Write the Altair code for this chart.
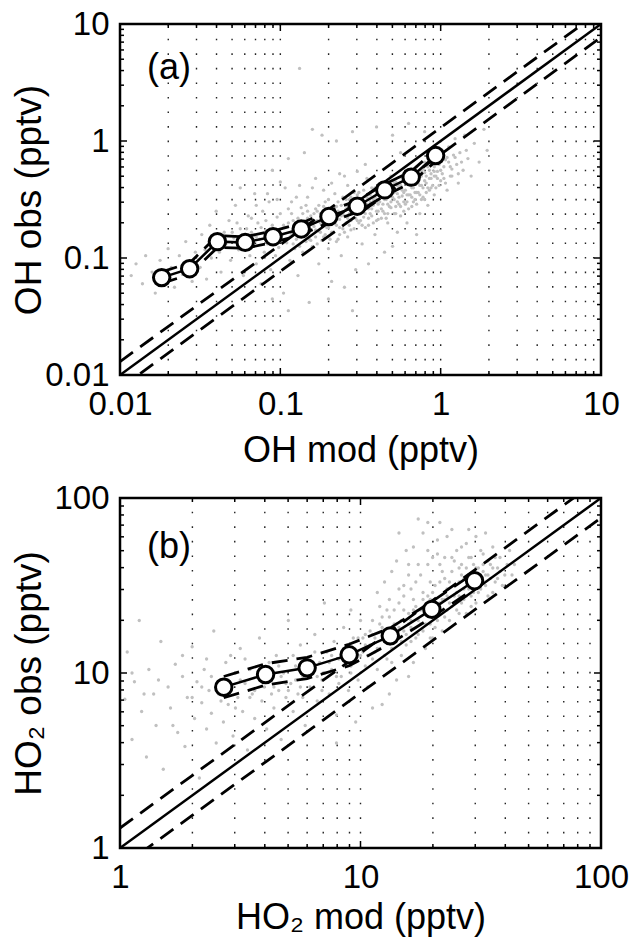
import altair as alt
import pandas as pd

FONT = "Liberation Sans, Arial, Helvetica, sans-serif"

# ---------------- Panel (a): OH ----------------
a_major = [0.01, 0.1, 1, 10]
a_minor = [0.02, 0.03, 0.04, 0.05, 0.06, 0.07, 0.08, 0.09,
           0.2, 0.3, 0.4, 0.5, 0.6, 0.7, 0.8, 0.9,
           2, 3, 4, 5, 6, 7, 8, 9]
a_grid = [0.02, 0.03, 0.04, 0.05, 0.06, 0.07, 0.08, 0.09, 0.1,
          0.2, 0.3, 0.4, 0.5, 0.6, 0.7, 0.8, 0.9, 1,
          2, 3, 4, 5, 6, 7, 8, 9]
a_domain = [0.01, 10]
a_mean_x = [0.0182, 0.0272, 0.0405, 0.0604, 0.0901, 0.135, 0.201, 0.302, 0.448, 0.655, 0.93]
a_mean_y = [0.068, 0.081, 0.138, 0.136, 0.152, 0.177, 0.226, 0.277, 0.382, 0.491, 0.751]
a_up = [0.0762, 0.0907, 0.155, 0.152, 0.170, 0.198, 0.253, 0.310, 0.428, 0.550, 0.841]
a_lo = [0.0607, 0.0723, 0.123, 0.121, 0.136, 0.158, 0.202, 0.247, 0.341, 0.438, 0.671]

# individual observations (log10 of OH mod, log10 of OH obs)
a_cloud = [
    (-1.93, -1.15), (-1.90, -1.05), (-1.86, -1.22), (-1.84, -0.98), (-1.80, -1.12), (-1.78, -1.30),
    (-1.75, -1.02), (-1.72, -1.18), (-1.70, -0.92), (-1.68, -1.08), (-1.66, -1.25), (-1.63, -0.98),
    (-1.61, -1.14), (-1.59, -0.86), (-1.57, -1.04), (-1.55, -1.20), (-1.53, -0.95),
    (-1.50, -1.08), (-1.49, -0.80), (-1.47, -0.93), (-1.46, -1.18), (-1.44, -0.72), (-1.43, -1.00),
    (-1.41, -0.86), (-1.40, -0.60), (-1.38, -0.95), (-1.37, -1.12), (-1.35, -0.78), (-1.34, -0.88),
    (-1.32, -0.68), (-1.31, -1.02), (-1.29, -0.83), (-1.28, -0.55), (-1.26, -0.93), (-1.25, -0.75),
    (-1.23, -1.15), (-1.22, -0.86), (-1.20, -0.64), (-1.19, -0.98),
    (-1.18, -0.78), (-1.17, -0.90), (-1.16, -0.45), (-1.15, -1.05), (-1.14, -0.70), (-1.13, -0.84),
    (-1.12, -1.22), (-1.11, -0.60), (-1.10, -0.95), (-1.09, -0.77), (-1.08, -0.88), (-1.07, -0.52),
    (-1.06, -1.10), (-1.05, -0.72), (-1.04, -0.82), (-1.03, -0.98), (-1.02, -0.65), (-1.01, -0.91),
    (-1.00, -0.35), (-0.99, -0.80), (-0.98, -1.30), (-0.97, -0.74), (-0.96, -0.87), (-0.95, -0.58),
    (-0.94, -1.02), (-0.93, -0.79), (-0.92, -0.68), (-0.91, -0.92), (-0.90, -0.48), (-0.90, -0.84),
    (-0.89, -1.15),
    (-0.88, -0.72), (-0.87, -0.80), (-0.86, -0.62), (-0.86, -0.95), (-0.85, -0.76), (-0.84, -0.55),
    (-0.84, -0.86), (-0.83, -0.70), (-0.82, -1.38), (-0.82, -0.78), (-0.81, -0.64), (-0.80, -0.90),
    (-0.80, -0.40), (-0.79, -0.73), (-0.78, -0.82), (-0.78, -0.58), (-0.77, -0.68), (-0.76, -1.05),
    (-0.76, -0.77), (-0.75, -0.62), (-0.74, -0.85), (-0.74, 0.05), (-0.73, -0.70), (-0.72, -0.52),
    (-0.72, -0.80), (-0.71, -0.66), (-0.70, -0.92), (-0.70, -0.74), (-0.69, -0.58), (-0.68, -0.69),
    (-0.68, -1.20), (-0.67, -0.78), (-0.66, -0.62), (-0.66, -0.45), (-0.65, -0.72), (-0.64, -0.84),
    (-0.64, -0.60), (-0.63, -0.67), (-0.62, -0.98), (-0.62, -0.55), (-0.61, -0.75), (-0.60, -0.64),
    (-0.60, -0.30), (-0.59, -0.70), (-0.58, -0.56), (-0.58, -0.82), (-0.57, -0.62), (-0.56, -0.48),
    (-0.56, -0.68), (-0.55, -0.58), (-0.54, -0.75), (-0.54, -0.52), (-0.53, -1.10), (-0.53, -0.63),
    (-0.52, -0.55), (-0.51, -0.44), (-0.51, -0.70), (-0.50, -0.60), (-0.49, -0.88), (-0.49, -0.50),
    (-0.48, -0.65), (-0.47, -0.56), (-0.47, -0.20), (-0.46, -0.46), (-0.45, -0.72), (-0.45, -0.58),
    (-0.44, -0.52), (-0.43, -0.64), (-0.43, -0.40), (-0.42, -0.55), (-0.41, -0.80), (-0.41, -0.48),
    (-0.40, -0.60), (-0.39, -0.44), (-0.39, -0.67), (-0.38, -0.52), (-0.37, -0.36), (-0.37, -0.58),
    (-0.36, -0.47), (-0.35, -0.95), (-0.35, -0.62), (-0.34, -0.41), (-0.33, -0.54), (-0.33, -0.70),
    (-0.32, -0.46), (-0.31, -0.30), (-0.31, -0.57),
    (-0.30, -0.40), (-0.29, -0.50), (-0.29, -0.62), (-0.28, -0.35), (-0.27, -0.45), (-0.27, -0.78),
    (-0.26, -0.54), (-0.25, -0.38), (-0.25, -0.10), (-0.24, -0.47), (-0.23, -0.60), (-0.23, -0.31),
    (-0.22, -0.42), (-0.21, -0.52), (-0.21, -0.70), (-0.20, -0.36), (-0.19, -0.46), (-0.18, -0.28),
    (-0.18, -0.56), (-0.17, -0.40), (-0.16, -0.50), (-0.15, -0.22), (-0.15, -0.34), (-0.14, -0.44),
    (-0.13, -0.62), (-0.12, -0.30), (-0.12, -0.38), (-0.11, -0.48), (-0.10, -0.18), (-0.10, -0.27),
    (-0.09, -0.36), (-0.08, -0.55), (-0.07, -0.25), (-0.07, -0.42), (-0.06, -0.32), (-0.05, -0.12),
    (-0.04, -0.22), (-0.04, -0.46), (-0.03, -0.30), (-0.02, -0.18), (-0.01, -0.38), (0.00, -0.25),
    (0.01, -0.08), (0.02, -0.32), (0.03, -0.16), (0.04, -0.42), (0.05, -0.05), (0.06, -0.22),
    (0.07, -0.30), (0.08, -0.12), (0.09, 0.02), (0.10, -0.20), (0.11, -0.36), (0.12, -0.10),
    (0.14, -0.25), (0.15, 0.05), (0.17, -0.15), (0.19, -0.30), (0.21, -0.02), (0.24, -0.18),
    (0.27, 0.10), (0.29, -0.08),
    (-1.05, -0.25), (-0.95, -0.15), (-0.85, -0.10), (-0.80, 0.10), (-0.88, 0.62), (-0.65, 0.00),
    (-0.55, 0.08), (-0.40, 0.12), (-0.30, 0.05), (-0.20, 0.15), (-0.10, 0.08), (-1.25, -0.40),
    (-0.70, -1.35), (-0.60, -1.25), (-0.45, -1.05), (-0.30, -0.90), (-0.15, -0.80), (-0.55, -1.45),
    (-0.95, -1.45), (-1.05, -1.35),
]
# denser core of the OH cloud (log10 mod, log10 obs)
a_cloud_core = [
    (-0.95, -0.70), (-0.94, -0.82), (-0.93, -0.62), (-0.92, -0.88), (-0.91, -0.75), (-0.89, -0.66),
    (-0.88, -0.90), (-0.87, -0.57), (-0.85, -0.68), (-0.84, -0.80), (-0.83, -0.60), (-0.81, -0.85),
    (-0.80, -0.70), (-0.79, -0.62), (-0.78, -0.76), (-0.77, -0.88), (-0.76, -0.55), (-0.75, -0.70),
    (-0.74, -0.64), (-0.73, -0.82), (-0.72, -0.60), (-0.71, -0.74), (-0.70, -0.50), (-0.69, -0.66),
    (-0.68, -0.78), (-0.67, -0.58), (-0.66, -0.70), (-0.65, -0.86), (-0.64, -0.52), (-0.63, -0.74),
    (-0.62, -0.64), (-0.61, -0.48), (-0.60, -0.78), (-0.59, -0.58), (-0.58, -0.66), (-0.57, -0.50),
    (-0.56, -0.76), (-0.55, -0.62), (-0.54, -0.44), (-0.53, -0.56), (-0.52, -0.68), (-0.51, -0.60),
    (-0.50, -0.50), (-0.49, -0.72), (-0.48, -0.42), (-0.47, -0.62), (-0.46, -0.54), (-0.45, -0.66),
    (-0.44, -0.46), (-0.43, -0.58), (-0.42, -0.70), (-0.41, -0.40), (-0.40, -0.52), (-0.39, -0.60),
    (-0.38, -0.46), (-0.37, -0.66), (-0.36, -0.54), (-0.35, -0.38), (-0.34, -0.50), (-0.33, -0.62),
    (-0.32, -0.42), (-0.31, -0.52), (-0.30, -0.34), (-0.29, -0.44), (-0.28, -0.56), (-0.27, -0.38),
    (-0.26, -0.48), (-0.25, -0.64), (-0.24, -0.32), (-0.23, -0.44), (-0.22, -0.54), (-0.21, -0.36),
    (-0.20, -0.46), (-0.19, -0.30), (-0.18, -0.40), (-0.17, -0.52), (-0.16, -0.34), (-0.15, -0.44),
    (-0.14, -0.28), (-0.13, -0.38), (-0.12, -0.50), (-0.11, -0.24), (-0.10, -0.34), (-0.09, -0.44),
    (-0.08, -0.22), (-0.07, -0.32), (-0.06, -0.40), (-0.05, -0.20), (-0.04, -0.30), (-0.03, -0.14),
    (-0.02, -0.26), (-0.01, -0.20), (0.00, -0.34), (0.02, -0.22), (0.04, -0.14), (0.06, -0.30),
    (-1.30, -0.78), (-1.27, -0.70), (-1.24, -0.85), (-1.21, -0.75), (-1.18, -0.66), (-1.15, -0.82),
    (-1.12, -0.74), (-1.09, -0.68), (-1.06, -0.86), (-1.03, -0.76), (-1.00, -0.62), (-0.98, -0.72),
    (-0.86, -0.74), (-0.83, -0.66), (-0.82, -0.84), (-0.79, -0.68), (-0.77, -0.60), (-0.75, -0.78),
    (-0.73, -0.56), (-0.71, -0.68), (-0.69, -0.84), (-0.67, -0.64), (-0.65, -0.56), (-0.63, -0.80),
    (-0.61, -0.62), (-0.59, -0.50), (-0.57, -0.72), (-0.55, -0.54), (-0.53, -0.66), (-0.52, -0.46),
    (-0.50, -0.68), (-0.48, -0.56), (-0.47, -0.74), (-0.46, -0.48), (-0.44, -0.62), (-0.42, -0.50),
    (-0.40, -0.68), (-0.39, -0.54), (-0.38, -0.40), (-0.36, -0.60), (-0.35, -0.50), (-0.34, -0.66),
    (-0.33, -0.44), (-0.32, -0.56), (-0.30, -0.48), (-0.29, -0.36), (-0.28, -0.62), (-0.27, -0.52),
    (-0.26, -0.40), (-0.25, -0.56), (-0.24, -0.42), (-0.23, -0.52), (-0.22, -0.34), (-0.21, -0.46),
    (-0.20, -0.58), (-0.19, -0.38), (-0.18, -0.48), (-0.17, -0.32), (-0.16, -0.44), (-0.15, -0.54),
    (-0.14, -0.36), (-0.13, -0.46), (-0.12, -0.26), (-0.11, -0.40), (-0.10, -0.50), (-0.09, -0.30),
    (-0.08, -0.40), (-0.07, -0.18), (-0.06, -0.28), (-0.05, -0.38), (-0.04, -0.26), (-0.03, -0.40),
    (-0.02, -0.32), (-0.01, -0.12), (0.01, -0.28), (0.03, -0.36), (0.05, -0.18), (0.07, -0.24),
    (0.09, -0.14), (0.11, -0.28), (0.13, -0.18), (0.16, -0.08),
    (-1.15, -0.55), (-1.08, -0.45), (-1.02, -0.50), (-0.97, -0.40), (-0.93, -0.52), (-0.88, -0.38),
    (-0.83, -0.48), (-0.78, -0.32), (-0.73, -0.42), (-0.68, -0.36), (-0.63, -0.28), (-0.58, -0.38),
    (-0.52, -0.26), (-0.46, -0.32),
]

# ---------------- Panel (b): HO2 ----------------
b_major = [1, 10, 100]
b_minor = [2, 3, 4, 5, 6, 7, 8, 9, 20, 30, 40, 50, 60, 70, 80, 90]
b_grid = [2, 3, 4, 5, 6, 7, 8, 9, 10, 20, 30, 40, 50, 60, 70, 80, 90]
b_domain = [1, 100]
b_mean_x = [2.70, 4.03, 6.00, 8.97, 13.3, 19.8, 29.8]
b_mean_y = [8.3, 9.8, 10.7, 12.7, 16.3, 23.1, 33.7]
b_up = [9.55, 11.3, 12.3, 14.6, 18.1, 25.6, 37.4]
b_lo = [7.22, 8.52, 9.30, 11.0, 14.7, 20.8, 30.4]

b_cloud = [
    (0.02, 0.85), (0.03, 1.12), (0.05, 0.62), (0.06, 0.95), (0.08, 1.30), (0.09, 0.78), (0.11, 0.52),
    (0.12, 1.02), (0.14, 0.88), (0.15, 0.70), (0.17, 1.18), (0.18, 0.45), (0.20, 0.92), (0.21, 0.80),
    (0.23, 1.05), (0.24, 0.66), (0.26, 0.98), (0.27, 0.58), (0.28, 0.86), (0.30, 1.15), (0.31, 0.74),
    (0.32, 0.95), (0.33, 0.40), (0.34, 0.83), (0.35, 1.02), (0.36, 0.68), (0.37, 0.90), (0.38, 0.77),
    (0.39, 1.24), (0.40, 0.60),
    (0.41, 0.88), (0.42, 0.96), (0.43, 0.72), (0.44, 1.06), (0.45, 0.82), (0.46, 0.92), (0.47, 0.64),
    (0.48, 1.00), (0.49, 0.86), (0.50, 1.14), (0.51, 0.78), (0.52, 0.94), (0.53, 0.56), (0.54, 1.02),
    (0.55, 0.88), (0.56, 0.74), (0.57, 0.98), (0.58, 1.20), (0.59, 0.84), (0.60, 0.92), (0.61, 0.68),
    (0.62, 1.06), (0.63, 0.96), (0.64, 0.80), (0.65, 1.10), (0.66, 0.90), (0.67, 0.62), (0.68, 1.00),
    (0.69, 0.86), (0.70, 1.30),
    (0.71, 0.94), (0.72, 0.78), (0.73, 1.04), (0.74, 0.88), (0.75, 1.16), (0.76, 0.98), (0.77, 0.70),
    (0.78, 1.08), (0.79, 0.92), (0.80, 1.00), (0.81, 1.22), (0.82, 0.84), (0.83, 1.06), (0.84, 0.96),
    (0.85, 1.40), (0.86, 1.12), (0.87, 0.88), (0.88, 1.02), (0.89, 1.18), (0.90, 0.76), (0.91, 1.08),
    (0.92, 0.98), (0.93, 1.26), (0.94, 1.14), (0.95, 0.90), (0.96, 1.04), (0.97, 1.20), (0.98, 1.10),
    (0.99, 0.96), (1.00, 1.30),
    (1.01, 1.12), (1.02, 1.04), (1.02, 1.22), (1.03, 0.92), (1.04, 1.16), (1.05, 1.30), (1.05, 1.08),
    (1.06, 1.20), (1.07, 1.46), (1.07, 1.02), (1.08, 1.14), (1.09, 0.82), (1.09, 1.26), (1.10, 1.18),
    (1.11, 1.36), (1.11, 1.08), (1.12, 1.22), (1.13, 1.58), (1.13, 1.14), (1.14, 1.28), (1.15, 0.96),
    (1.15, 1.20), (1.16, 1.40), (1.17, 1.10), (1.17, 1.30), (1.18, 1.24), (1.19, 1.70), (1.19, 1.16),
    (1.20, 1.34), (1.21, 1.26), (1.21, 1.48), (1.22, 1.06), (1.23, 1.20), (1.23, 1.38), (1.24, 1.88),
    (1.24, 1.30), (1.25, 1.56), (1.26, 1.24), (1.26, 1.42), (1.27, 1.14), (1.28, 1.34), (1.28, 1.62),
    (1.29, 1.28), (1.30, 1.46),
    (1.30, 1.20), (1.31, 1.38), (1.32, 1.76), (1.32, 1.30), (1.33, 1.52), (1.34, 1.42), (1.34, 1.24),
    (1.35, 1.66), (1.36, 1.36), (1.36, 1.48), (1.37, 1.30), (1.38, 1.58), (1.38, 1.82), (1.39, 1.44),
    (1.40, 1.36), (1.40, 1.70), (1.41, 1.52), (1.42, 1.40), (1.42, 1.62), (1.43, 1.48), (1.44, 1.34),
    (1.44, 1.74), (1.45, 1.56), (1.46, 1.44), (1.46, 1.66), (1.47, 1.52), (1.48, 1.40), (1.48, 1.78),
    (1.49, 1.60), (1.50, 1.48), (1.51, 1.68), (1.52, 1.56), (1.53, 1.44), (1.54, 1.62), (1.55, 1.72),
    (1.56, 1.52), (1.57, 1.60), (1.58, 1.66), (1.60, 1.56), (1.62, 1.70), (1.64, 1.62),
    (1.16, 1.80), (1.28, 1.86), (1.20, 1.62), (1.10, 1.52), (0.96, 1.36), (1.05, 0.80), (1.12, 0.88),
    (0.98, 0.72), (0.90, 0.60), (1.20, 0.98),
]
# denser core of the HO2 cloud (log10 mod, log10 obs)
b_cloud_core = [
    (1.00, 1.10), (1.02, 1.16), (1.04, 1.24), (1.06, 1.12), (1.08, 1.28), (1.10, 1.10), (1.12, 1.32),
    (1.14, 1.18), (1.16, 1.26), (1.18, 1.36), (1.19, 1.22), (1.21, 1.30), (1.22, 1.42), (1.24, 1.22),
    (1.25, 1.36), (1.27, 1.28), (1.28, 1.44), (1.29, 1.52), (1.30, 1.34), (1.31, 1.26), (1.33, 1.40),
    (1.34, 1.58), (1.35, 1.32), (1.36, 1.44), (1.37, 1.52), (1.38, 1.38), (1.39, 1.64), (1.40, 1.46),
    (1.41, 1.34), (1.42, 1.56), (1.43, 1.42), (1.44, 1.60), (1.45, 1.48), (1.46, 1.38), (1.47, 1.62),
    (1.48, 1.54), (1.49, 1.46), (1.50, 1.70), (1.51, 1.58), (1.52, 1.50), (1.53, 1.64), (1.54, 1.54),
    (1.55, 1.46), (1.56, 1.66), (1.58, 1.58), (1.59, 1.50), (1.61, 1.62), (1.63, 1.56),
    (0.60, 1.00), (0.63, 0.88), (0.66, 1.04), (0.69, 0.94), (0.72, 1.10), (0.75, 0.92), (0.78, 1.00),
    (0.81, 1.12), (0.84, 0.90), (0.87, 1.06), (0.90, 0.98), (0.93, 1.14), (0.96, 1.00), (0.99, 1.20),
    (0.45, 0.96), (0.48, 0.80), (0.52, 1.08), (0.56, 0.90), (0.38, 0.98), (0.34, 0.92), (0.30, 0.86),
    (0.26, 1.10), (0.22, 0.70), (0.16, 0.96), (0.10, 0.88), (0.05, 1.00),
    (1.15, 1.64), (1.22, 1.72), (1.30, 1.66), (1.36, 1.78), (1.26, 1.80), (1.33, 1.86), (1.18, 1.50),
    (1.45, 1.82), (1.52, 1.80),
    (1.01, 1.20), (1.03, 1.10), (1.05, 1.22), (1.07, 1.14), (1.09, 1.32), (1.11, 1.24), (1.13, 1.06),
    (1.14, 1.36), (1.15, 1.28), (1.17, 1.18), (1.18, 1.44), (1.20, 1.28), (1.21, 1.18), (1.22, 1.36),
    (1.23, 1.52), (1.25, 1.28), (1.26, 1.46), (1.27, 1.36), (1.29, 1.20), (1.29, 1.42), (1.31, 1.50),
    (1.32, 1.36), (1.33, 1.62), (1.35, 1.42), (1.35, 1.54), (1.37, 1.40), (1.38, 1.66), (1.39, 1.50),
    (1.41, 1.44), (1.41, 1.60), (1.43, 1.54), (1.44, 1.44), (1.45, 1.66), (1.47, 1.46), (1.48, 1.60),
    (1.50, 1.52), (1.51, 1.62), (1.53, 1.56), (1.55, 1.60), (1.57, 1.54), (1.20, 1.56), (1.24, 1.62),
    (1.28, 1.70), (1.32, 1.68), (1.42, 1.72), (1.16, 1.48), (1.12, 1.42), (1.08, 1.38),
    (0.85, 1.00), (0.88, 1.10), (0.91, 0.94), (0.94, 1.06), (0.97, 1.12), (0.82, 0.98), (0.79, 1.06),
    (0.76, 0.86), (0.73, 0.96), (0.70, 0.90), (0.67, 0.98), (0.64, 0.92), (0.58, 1.02), (0.54, 0.86),
    (0.50, 0.96), (0.46, 1.10), (0.42, 0.84), (0.36, 1.08),
]

REF_FACTOR = 1.3  # dashed lines: 1:1 line scaled by +/-30 %

W = 481


def panel(cloud, mx, my, up, lo, major, minor, grid, dom, xtitle, ytitle, tag, H, title_y, tag_y):
    sc = alt.Scale(type="log", domain=dom, nice=False)
    xaxis = alt.Axis(values=major, format="~g", title=xtitle, ticks=False, tickSize=0, domain=False,
                     grid=False, labelPadding=13, labelFlush=False, labelOverlap=False,
                     titleFontSize=36,
                     titleX=W / 2, titleY=title_y, titleAlign="center", titleBaseline="alphabetic")
    yaxis = alt.Axis(values=major, format="~g", title=ytitle, ticks=False, tickSize=0, domain=False,
                     grid=False, labelPadding=11, labelFlush=False, labelOverlap=False,
                     titleFontSize=37,
                     titleX=-80, titleY=H / 2, titleAngle=270, titleAlign="center",
                     titleBaseline="alphabetic")

    def X(f):
        return alt.X(f, type="quantitative", scale=sc, axis=xaxis)

    def Y(f):
        return alt.Y(f, type="quantitative", scale=sc, axis=yaxis)

    cloud_df = pd.DataFrame({"x": [10 ** p[0] for p in cloud], "y": [10 ** p[1] for p in cloud]})
    mean_df = pd.DataFrame({"x": mx, "y": my, "up": up, "lo": lo})
    ref_df = pd.DataFrame({"x": dom, "one": dom,
                           "hi": [v * REF_FACTOR for v in dom],
                           "low": [v / REF_FACTOR for v in dom]})
    grid_df = pd.DataFrame({"g": grid})
    maj_df = pd.DataFrame({"t": major})
    min_df = pd.DataFrame({"t": minor})

    dash = [16, 9]
    layers = []
    layers.append(alt.Chart(grid_df).mark_rule(stroke="#222222", strokeWidth=1.4,
                                               strokeDash=[1.6, 12.95]).encode(
        x=X("g"), y=alt.value(H), y2=alt.value(0)))
    layers.append(alt.Chart(cloud_df).mark_circle(size=11, color="#c0c0c0", opacity=1).encode(
        x=X("x"), y=Y("y")))
    ref = alt.Chart(ref_df)
    layers.append(ref.mark_line(color="black", strokeWidth=2.5, clip=True).encode(x=X("x"), y=Y("one")))
    layers.append(ref.mark_line(color="black", strokeWidth=2.8, strokeDash=dash, clip=True).encode(
        x=X("x"), y=Y("hi")))
    layers.append(ref.mark_line(color="black", strokeWidth=2.8, strokeDash=dash, clip=True).encode(
        x=X("x"), y=Y("low")))
    mb = alt.Chart(mean_df)
    layers.append(mb.mark_line(color="black", strokeWidth=2.8, strokeDash=dash).encode(
        x=X("x"), y=Y("up")))
    layers.append(mb.mark_line(color="black", strokeWidth=2.8, strokeDash=dash).encode(
        x=X("x"), y=Y("lo")))
    layers.append(mb.mark_line(color="black", strokeWidth=2.5).encode(x=X("x"), y=Y("y")))
    layers.append(mb.mark_circle(size=270, fill="white", stroke="black", strokeWidth=3,
                                 opacity=1).encode(x=X("x"), y=Y("y")))
    # inward ticks on all four sides
    for df, L in ((maj_df, 7), (min_df, 4)):
        c = alt.Chart(df).mark_rule(color="black", strokeWidth=1.5)
        layers.append(c.encode(x=X("t"), y=alt.value(H), y2=alt.value(H - L)))
        layers.append(c.encode(x=X("t"), y=alt.value(0), y2=alt.value(L)))
        layers.append(c.encode(y=Y("t"), x=alt.value(0), x2=alt.value(L)))
        layers.append(c.encode(y=Y("t"), x=alt.value(W), x2=alt.value(W - L)))
    layers.append(alt.Chart(pd.DataFrame({"tag": [tag]})).mark_text(
        align="left", baseline="alphabetic", fontSize=36, font=FONT, color="black").encode(
        text="tag:N", x=alt.value(27), y=alt.value(tag_y)))
    return alt.layer(*layers).properties(width=W, height=H)


pa = panel(a_cloud + a_cloud_core, a_mean_x, a_mean_y, a_up, a_lo, a_major, a_minor, a_grid,
           a_domain, "OH mod (pptv)", "OH obs (pptv)", "(a)", 351, 86, 55)
pb = panel(b_cloud + b_cloud_core, b_mean_x, b_mean_y, b_up, b_lo, b_major, b_minor, b_grid,
           b_domain, "HO₂ mod (pptv)", "HO₂ obs (pptv)", "(b)", 350, 80, 60)

chart = alt.vconcat(pa, pb, spacing=123, bounds="flush").properties(
    padding={"left": 8, "top": 6, "right": 0, "bottom": 0},
    background="white",
).configure_view(stroke="black", strokeWidth=2.5).configure_axis(
    labelFont=FONT, titleFont=FONT, labelFontSize=33, titleFontSize=36,
    labelColor="black", titleColor="black", titleFontWeight="normal",
)

chart.save("out.html", embed_options={"renderer": "svg", "actions": False})
